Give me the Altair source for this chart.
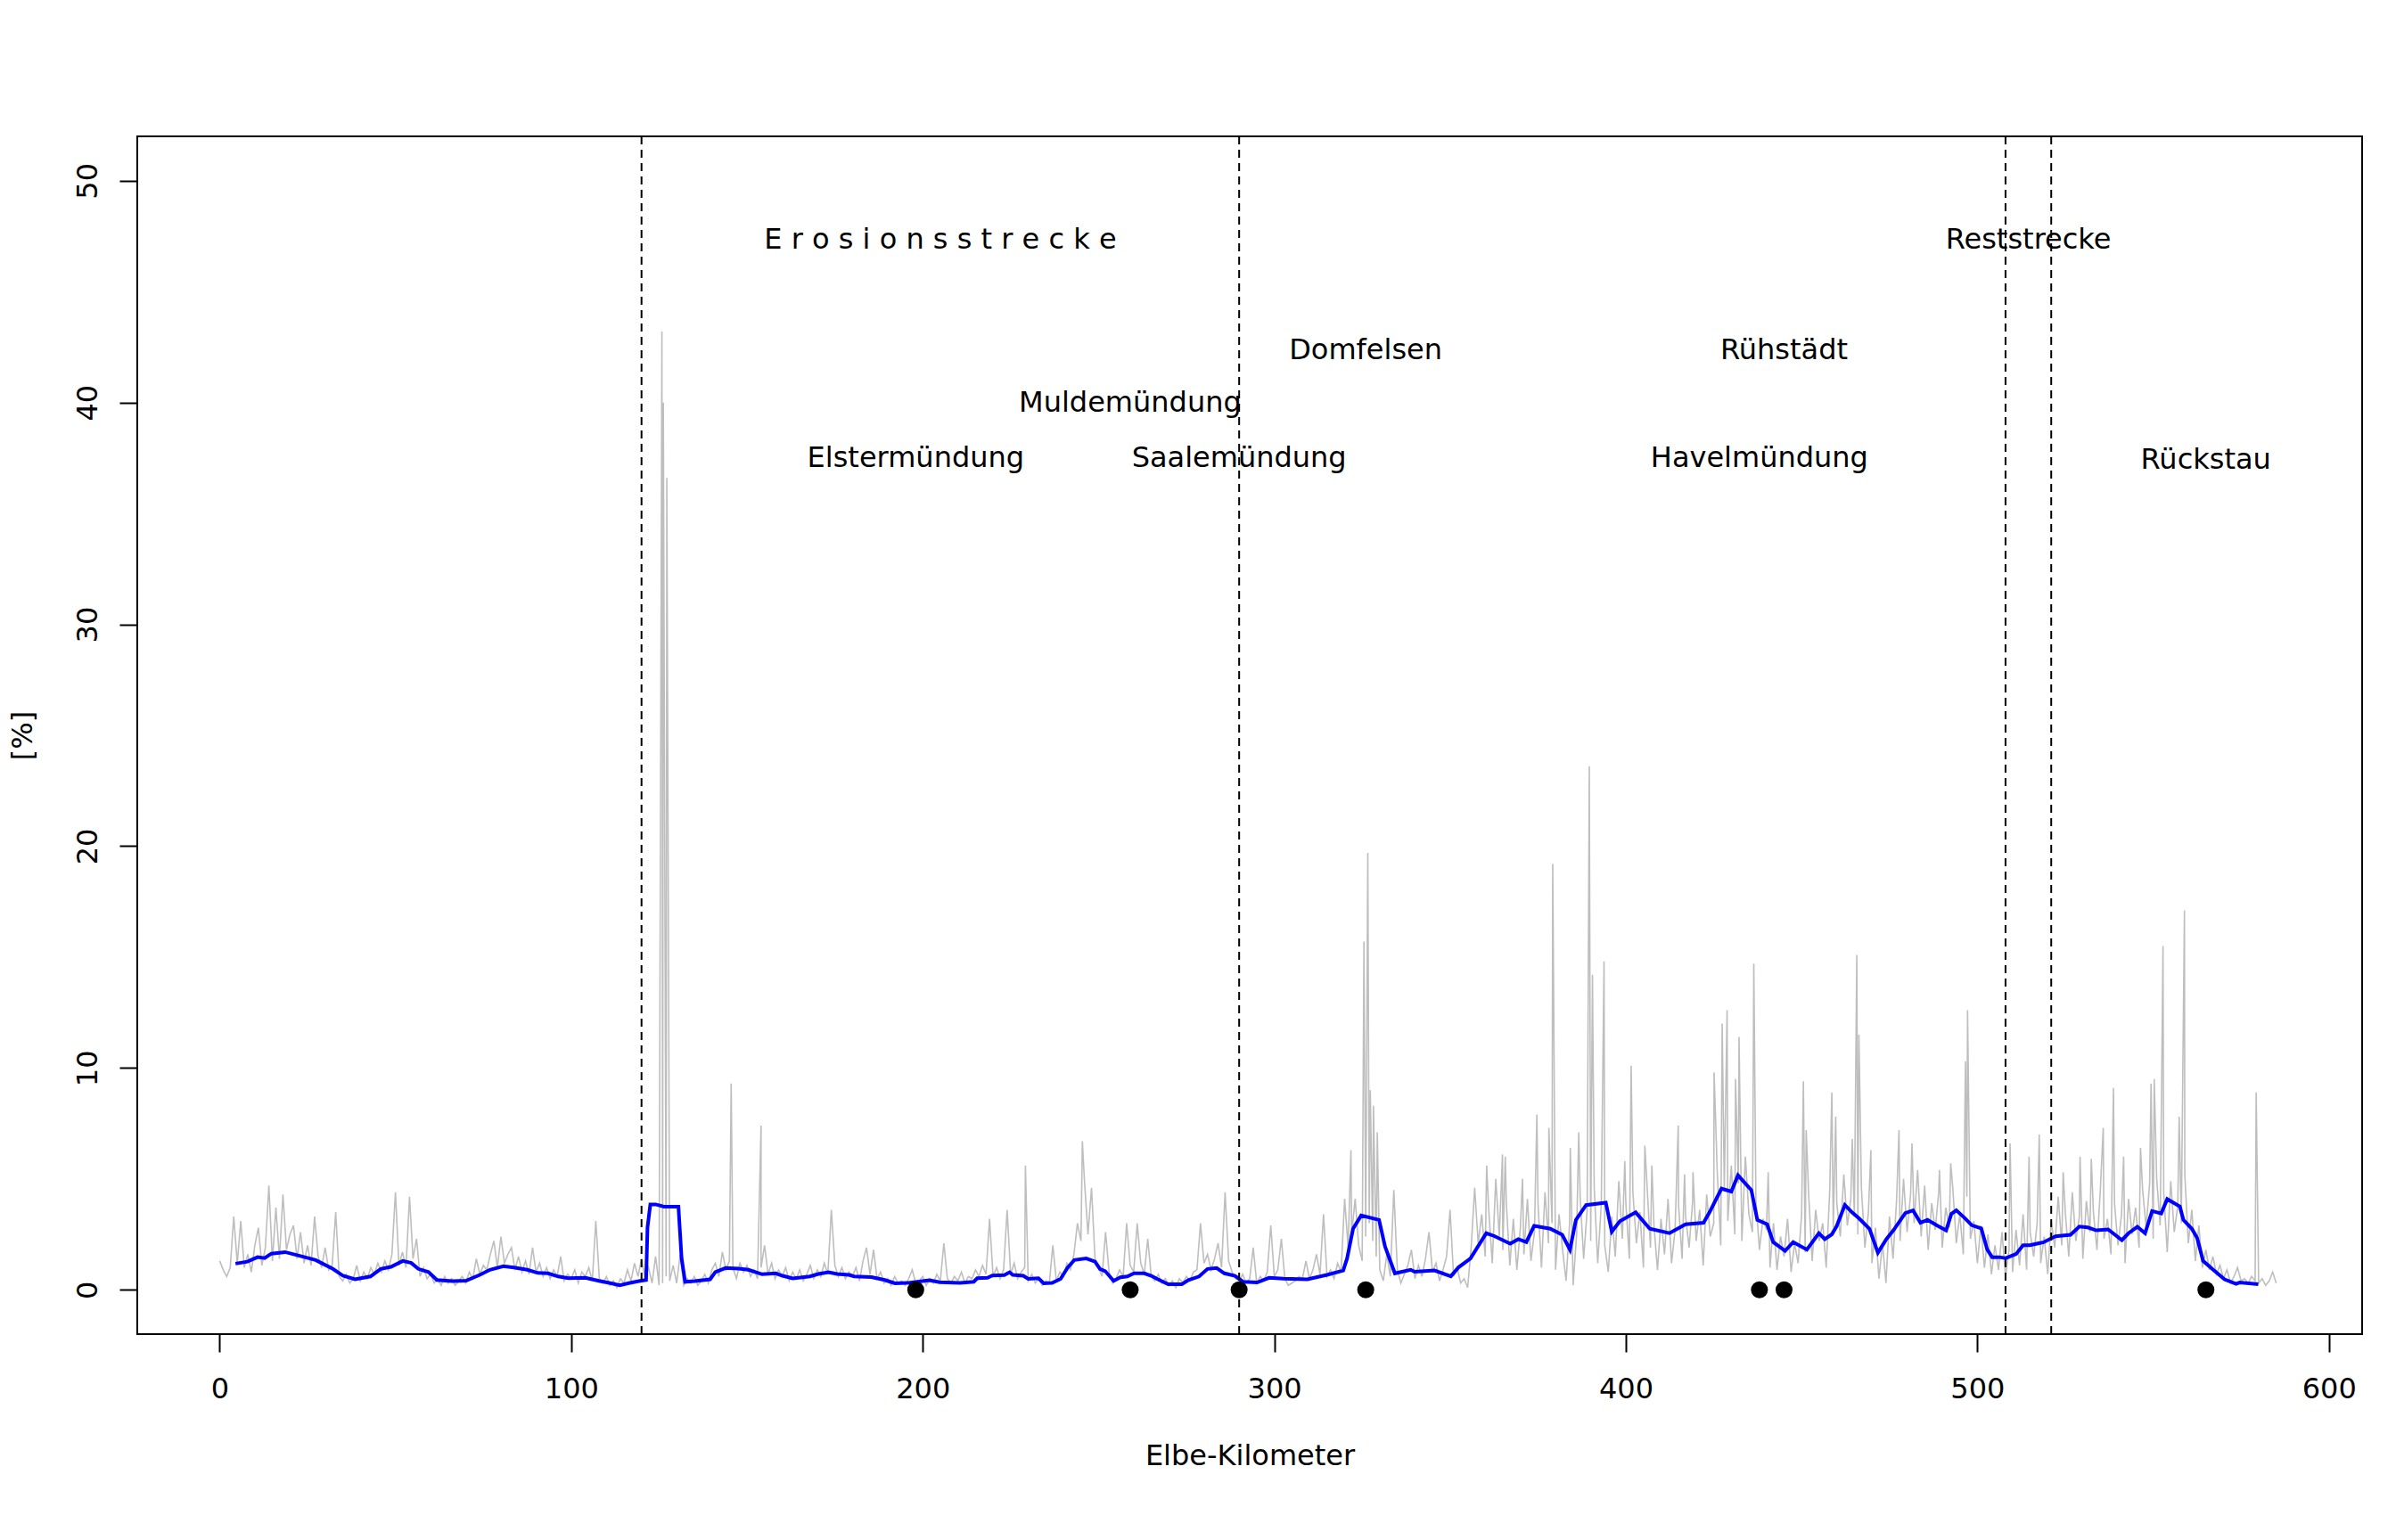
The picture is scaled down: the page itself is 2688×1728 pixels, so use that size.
import altair as alt
import pandas as pd

# ---- gray series: profile value per Elbe-km (0 ... 585) ----
gray_base = [
    1.3, 0.9, 0.6, 1.0, 3.3, 1.2, 3.1, 1.0, 1.6, 0.8,   # 0
    2.0, 2.8, 1.1, 1.9, 4.7, 1.3, 3.7, 1.4, 4.3, 1.8,   # 10
    2.5, 2.9, 1.4, 2.6, 1.2, 2.0, 1.1, 3.3, 1.5, 1.0,   # 20
    1.9, 0.9, 1.1, 3.5, 0.6, 0.4, 0.7, 0.3, 0.5, 1.1,   # 30
    0.4, 0.8, 0.5, 1.0, 0.7, 1.2, 0.8, 1.3, 0.9, 1.6,   # 40
    4.4, 1.1, 1.7, 1.0, 4.2, 1.4, 2.3, 0.6, 1.0, 0.5,   # 50
    0.7, 0.3, 0.5, 0.2, 0.6, 0.3, 0.5, 0.2, 0.4, 0.6,   # 60
    0.3, 0.8, 0.5, 1.4, 0.7, 1.1, 0.9, 1.6, 2.2, 1.0,   # 70
    2.4, 1.2, 1.6, 1.9, 0.9, 1.5, 0.8, 1.3, 0.7, 1.9,   # 80
    0.8, 1.2, 0.6, 1.0, 0.5, 0.9, 0.6, 1.5, 0.4, 0.7,   # 90
    0.5, 0.9, 0.3, 0.8, 0.6, 1.0, 0.4, 3.1, 0.5, 0.3,   # 100
    0.6, 0.2, 0.4, 0.1, 0.5, 0.3, 0.9, 0.4, 1.2, 0.6,   # 110
    1.4, 0.5, 1.0, 0.3, 1.5, 0.2, 0.3, 0.6, 0.4, 1.1,   # 120
    0.3, 1.6, 0.2, 0.5, 0.3, 0.6, 0.2, 0.4, 0.7, 0.3,   # 130
    0.9, 1.2, 0.6, 1.7, 0.9, 1.3, 1.0, 0.5, 1.2, 0.8,   # 140
    1.1, 0.6, 0.9, 0.5, 1.0, 2.0, 0.7, 1.2, 0.5, 0.9,   # 150
    0.6, 1.0, 0.4, 0.8, 0.5, 0.9, 0.4, 0.7, 1.1, 0.5,   # 160
    0.9, 0.6, 1.2, 0.7, 3.6, 1.1, 0.6, 1.0, 0.5, 0.8,   # 170
    0.6, 1.0, 0.4, 1.3, 1.9, 0.7, 1.8, 0.5, 0.8, 0.3,   # 180
    0.5, 0.2, 0.6, 0.3, 0.4, 0.2, 0.5, 0.9, 0.3, 0.4,   # 190
    0.6, 0.2, 0.5, 0.3, 0.7, 0.4, 2.1, 0.5, 0.3, 0.6,   # 200
    0.4, 0.8, 0.3, 0.6, 0.5, 0.9, 0.6, 1.1, 0.7, 3.2,   # 210
    0.6, 1.0, 0.5, 0.9, 3.6, 0.7, 1.2, 0.5, 0.8, 1.0,   # 220
    0.4, 0.7, 0.3, 0.5, 0.2, 0.4, 0.3, 2.0, 0.4, 0.8,   # 230
    0.6, 1.2, 0.9, 1.6, 3.0, 2.2, 4.9, 2.5, 4.6, 1.4,   # 240
    1.0, 0.6, 2.6, 0.8, 0.3, 0.5, 0.9, 0.6, 3.0, 1.1,   # 250
    0.8, 3.0, 1.2, 0.7, 2.3, 0.6, 0.4, 0.7, 0.3, 0.5,   # 260
    0.2, 0.4, 0.1, 0.5, 0.3, 0.6, 0.4, 0.8, 0.9, 3.0,   # 270
    1.2, 1.6, 0.9, 1.4, 2.1, 1.0, 4.4, 1.3, 0.8, 0.5,   # 280
    0.4, 0.7, 0.3, 0.5, 1.9, 0.3, 0.6, 0.4, 0.8, 2.9,   # 290
    0.6, 0.9, 2.3, 0.5, 0.2, 0.3, 0.4, 0.6, 0.5, 1.3,   # 300
    0.5, 0.9, 1.6, 0.7, 3.4, 0.6, 0.9, 0.5, 1.2, 0.8,   # 310
    4.1, 1.9, 2.5, 4.1, 2.0, 1.3, 2.4, 3.0, 2.2, 1.5,   # 320
    0.9, 0.4, 1.6, 0.6, 4.5, 0.9, 0.3, 0.7, 1.1, 1.8,   # 330
    0.5, 1.1, 0.6, 1.4, 2.6, 0.8, 1.2, 0.4, 0.9, 1.5,   # 340
    3.6, 0.6, 1.0, 0.3, 0.5, 0.1, 1.9, 4.6, 2.1, 3.4,   # 350
    1.5, 3.6, 1.2, 5.0, 2.4, 1.8, 3.9, 1.1, 3.2, 0.9,   # 360
    2.8, 1.6, 4.1, 1.3, 2.6, 3.9, 1.0, 4.4, 2.1, 3.0,   # 370
    0.9, 3.4, 1.8, 0.4, 3.0, 0.2, 2.5, 4.2, 1.4, 3.6,   # 380
    2.2, 4.6, 1.2, 3.8, 2.0, 0.8, 3.3, 1.5, 4.9, 2.3,   # 390
    3.9, 1.4, 4.4, 2.1, 3.5, 1.0, 4.8, 1.9, 2.9, 0.9,   # 400
    3.2, 1.6, 4.1, 1.2, 2.7, 3.8, 1.4, 3.3, 1.9, 4.0,   # 410
    2.2, 3.6, 1.1, 4.3, 2.4, 3.0, 5.3, 2.0, 4.6, 3.1,   # 420
    5.6, 2.5, 4.8, 2.2, 6.0, 3.4, 2.6, 4.0, 1.8, 3.2,   # 430
    2.7, 1.0, 3.0, 0.9, 2.4, 1.5, 3.2, 0.8, 2.1, 1.2,   # 440
    3.4, 1.7, 4.3, 1.3, 3.6, 2.2, 3.0, 1.0, 4.5, 2.8,   # 450
    3.9, 2.4, 5.2, 2.9, 4.1, 3.3, 2.5, 4.6, 1.9, 3.5,   # 460
    1.2, 2.8, 0.5, 2.1, 0.3, 3.3, 1.4, 4.0, 2.2, 5.0,   # 470
    2.6, 4.3, 3.0, 5.4, 2.4, 4.7, 1.8, 3.9, 2.7, 4.4,   # 480
    1.9, 3.7, 2.8, 4.6, 2.1, 3.4, 1.6, 4.2, 2.3, 3.1,   # 490
    1.2, 2.9, 1.0, 2.5, 0.7, 2.0, 0.9, 2.6, 0.6, 1.8,   # 500
    0.8, 2.7, 1.1, 3.4, 0.9, 2.6, 1.5, 3.0, 1.2, 2.4,   # 510
    0.7, 3.1, 1.9, 4.2, 2.0, 3.5, 1.5, 4.4, 2.2, 3.3,   # 520
    1.4, 4.0, 2.6, 3.5, 1.8, 4.6, 2.3, 3.2, 1.6, 3.9,   # 530
    2.0, 3.4, 1.2, 4.1, 2.5, 3.7, 1.9, 4.5, 2.8, 4.8,   # 540
    2.3, 5.0, 2.9, 4.4, 1.7, 4.9, 2.6, 3.8, 3.0, 5.2,   # 550
    2.1, 3.6, 1.3, 2.9, 1.0, 1.8, 0.9, 1.5, 0.7, 1.1,   # 560
    0.5, 0.9, 0.3, 0.6, 1.0, 0.4, 0.5, 0.3, 0.6, 0.4,   # 570
    0.3, 0.5, 0.2, 0.4, 0.8, 0.3,                       # 580
]
gray_base_km = list(range(len(gray_base)))

# extra in-between samples of the gray series (km, value): narrow peaks
spike_km = [125.8, 126.2, 127.2, 145.5, 154.0, 229.2, 245.4, 321.8, 325.5, 326.6,
            327.3, 328.2, 329.3, 360.4, 364.9, 365.7, 370.6, 374.7, 378.1, 379.2,
            384.2, 386.6, 389.6, 390.5, 393.8, 399.7, 401.5, 405.4, 407.4, 414.9,
            416.7, 419.1, 425.1, 427.4, 428.8, 431.2, 432.2, 436.4, 440.5, 450.5,
            451.3, 458.6, 459.7, 464.4, 465.7, 466.3, 469.7, 477.7, 481.4, 489.2,
            492.4, 496.6, 497.2, 509.3, 514.7, 517.6, 524.4, 529.2, 532.4, 535.8,
            538.7, 541.6, 546.4, 549.4, 550.3, 552.8, 557.4, 558.9, 579.3]
spike_val = [43.2, 40.0, 36.6, 9.3, 7.4, 5.6, 6.7, 6.3, 15.7, 19.7,
             9.0, 8.3, 7.1, 5.6, 6.1, 6.0, 5.0, 7.9, 7.3, 19.2,
             6.4, 7.1, 23.6, 14.2, 14.8, 5.8, 10.1, 6.5, 5.6, 7.4,
             5.2, 5.3, 9.8, 12.0, 12.6, 9.5, 11.4, 14.7, 5.3, 9.4,
             7.2, 8.9, 7.8, 6.8, 15.1, 11.5, 6.3, 7.2, 6.6, 5.4,
             5.7, 10.3, 12.6, 6.6, 6.0, 7.0, 5.3, 6.0, 5.9, 7.3,
             9.1, 6.0, 6.4, 9.3, 9.5, 15.5, 7.8, 17.1, 8.9]

# ---- blue smoothed series ----
blue_km = [4.5, 7.9, 10.8, 12.8, 14.7, 18.6, 22.5, 27.3, 32.2, 35.1,
           38.5, 42.9, 45.8, 48.7, 52.1, 54.5, 56.5, 59.4, 61.8, 66.2,
           70.1, 74.0, 76.9, 80.7, 83.7, 87.5, 90.5, 93.4, 96.3, 99.2,
           104.0, 107.9, 110.8, 113.8, 116.7, 119.6, 121.3, 121.7, 122.5, 124.0,
           126.4, 130.5, 131.4, 132.4, 135.1, 139.5, 141.0, 143.9, 147.7, 150.4,
           154.3, 158.2, 160.1, 163.0, 167.9, 170.3, 173.2, 175.6, 179.0, 180.5,
           185.4, 189.2, 192.1, 196.0, 199.9, 201.9, 204.8, 210.6, 214.5, 215.5,
           218.4, 219.8, 223.2, 224.7, 225.6, 228.6, 230.0, 232.9, 234.4, 236.8,
           239.2, 241.2, 243.1, 246.5, 249.0, 250.4, 251.9, 254.3, 256.2, 258.2,
           260.1, 263.0, 265.0, 266.9, 269.8, 273.7, 275.6, 278.6, 281.0, 283.6,
           285.8, 288.8, 291.2, 295.1, 298.5, 302.6, 309.4, 315.0, 319.6, 320.7,
           322.4, 324.7, 329.8, 331.5, 334.3, 338.8, 339.9, 345.6, 350.2, 352.4,
           355.8, 360.3, 362.6, 367.1, 369.4, 371.7, 373.9, 378.5, 381.9, 384.1,
           385.8, 388.7, 394.3, 396.0, 398.3, 402.8, 406.8, 412.4, 417.0, 422.1,
           423.8, 427.2, 430.0, 431.9, 435.7, 437.4, 440.2, 441.9, 445.3, 447.6,
           451.5, 454.9, 456.6, 458.6, 460.0, 462.3, 464.4, 466.3, 469.3, 471.7,
           474.1, 476.1, 479.5, 481.7, 483.8, 485.8, 488.7, 491.1, 492.6, 494.0,
           496.5, 498.4, 501.1, 502.8, 504.2, 506.2, 508.1, 511.0, 513.0, 514.9,
           518.8, 522.2, 526.5, 529.0, 531.4, 533.8, 537.2, 541.1, 543.0, 545.5,
           547.7, 549.7, 552.3, 554.0, 557.6, 558.6, 561.0, 562.5, 564.2, 567.3,
           570.3, 573.6, 574.6, 579.9]
blue_val = [1.18, 1.27, 1.47, 1.43, 1.63, 1.70, 1.54, 1.34, 0.94, 0.63,
            0.47, 0.60, 0.94, 1.03, 1.30, 1.21, 0.94, 0.80, 0.44, 0.39,
            0.41, 0.67, 0.90, 1.06, 1.00, 0.90, 0.76, 0.74, 0.60, 0.52,
            0.54, 0.40, 0.31, 0.20, 0.31, 0.40, 0.44, 2.81, 3.85, 3.85,
            3.75, 3.75, 1.41, 0.36, 0.39, 0.47, 0.80, 0.98, 0.95, 0.90,
            0.70, 0.74, 0.63, 0.51, 0.60, 0.71, 0.79, 0.71, 0.67, 0.60,
            0.57, 0.44, 0.29, 0.31, 0.39, 0.43, 0.34, 0.31, 0.36, 0.52,
            0.54, 0.64, 0.66, 0.79, 0.67, 0.63, 0.49, 0.52, 0.29, 0.31,
            0.49, 1.00, 1.34, 1.41, 1.27, 0.94, 0.84, 0.40, 0.56, 0.60,
            0.74, 0.74, 0.63, 0.47, 0.25, 0.25, 0.44, 0.60, 0.94, 0.98,
            0.74, 0.63, 0.36, 0.33, 0.54, 0.50, 0.47, 0.67, 0.87, 1.41,
            2.75, 3.35, 3.15, 1.95, 0.74, 0.90, 0.81, 0.87, 0.61, 1.01,
            1.41, 2.55, 2.42, 2.08, 2.28, 2.15, 2.88, 2.75, 2.48, 1.81,
            3.15, 3.82, 3.93, 2.62, 3.09, 3.49, 2.75, 2.55, 2.95, 3.02,
            3.49, 4.56, 4.43, 5.16, 4.49, 3.15, 2.95, 2.15, 1.75, 2.15,
            1.81, 2.55, 2.28, 2.50, 2.88, 3.82, 3.48, 3.22, 2.75, 1.67,
            2.28, 2.68, 3.46, 3.58, 3.02, 3.15, 2.88, 2.68, 3.42, 3.58,
            3.22, 2.91, 2.77, 1.81, 1.47, 1.47, 1.43, 1.61, 2.01, 2.01,
            2.14, 2.41, 2.48, 2.85, 2.81, 2.68, 2.72, 2.24, 2.55, 2.84,
            2.55, 3.55, 3.44, 4.09, 3.75, 3.15, 2.75, 2.34, 1.30, 0.87,
            0.47, 0.27, 0.33, 0.25]

# ---- section borders, landmarks, labels ----
section_km = [120, 290, 508, 521]
marker_km = [198, 259, 290, 326, 438, 445, 565]
label_text = ["E r o s i o n s s t r e c k e", "Reststrecke", "Domfelsen", "Rühstädt",
              "Muldemündung", "Elstermündung", "Saalemündung", "Havelmündung", "Rückstau"]
label_km = [205, 514.5, 326, 445, 259, 198, 290, 438, 565]
label_y = [47.35, 47.35, 42.35, 42.35, 40.0, 37.5, 37.5, 37.5, 37.4]

x_ticks = [0, 100, 200, 300, 400, 500, 600]
y_ticks = [0, 10, 20, 30, 40, 50]

FONT = "DejaVu Sans"
FS = 32
X_DOMAIN = [-23.44, 609.44]
Y_DOMAIN = [-2, 52]
W, H = 2496, 1344

gray_df = pd.DataFrame({"km": gray_base_km + spike_km, "v": gray_base + spike_val}).sort_values("km")
blue_df = pd.DataFrame({"km": blue_km, "v": blue_val})
sect_df = pd.DataFrame({"km": section_km})
mark_df = pd.DataFrame({"km": marker_km, "v": [0] * len(marker_km)})
lab_df = pd.DataFrame({"km": label_km, "v": label_y, "t": label_text})

xscale = alt.Scale(domain=X_DOMAIN, nice=False, zero=False)
yscale = alt.Scale(domain=Y_DOMAIN, nice=False, zero=False)

xaxis = alt.Axis(values=x_ticks, format="d", tickSize=20, tickWidth=2, tickColor="black",
                 labelFont=FONT, labelFontSize=FS, labelColor="black", labelPadding=51,
                 labelBaseline="alphabetic", labelFlush=False, labelOverlap=False,
                 domain=False, grid=False, title="Elbe-Kilometer", titleFont=FONT,
                 titleFontSize=FS, titleFontWeight="normal", titleColor="black",
                 titleX=W / 2, titleY=146, titleAlign="center", titleBaseline="alphabetic")
yaxis = alt.Axis(values=y_ticks, format="d", tickSize=20, tickWidth=2, tickColor="black",
                 labelFont=FONT, labelFontSize=FS, labelColor="black", labelPadding=26,
                 labelAngle=270, labelAlign="center", labelBaseline="alphabetic",
                 labelFlush=False, labelOverlap=False,
                 domain=False, grid=False, title="[%]", titleFont=FONT, titleFontSize=FS,
                 titleFontWeight="normal", titleColor="black", titleAngle=270,
                 titleX=-129, titleY=H / 2, titleAlign="center", titleBaseline="middle")

gray = alt.Chart(gray_df).mark_line(color="#BEBEBE", strokeWidth=1.6).encode(
    x=alt.X("km:Q", scale=xscale, axis=xaxis),
    y=alt.Y("v:Q", scale=yscale, axis=yaxis),
)
blue = alt.Chart(blue_df).mark_line(color="#0000FF", strokeWidth=4).encode(
    x=alt.X("km:Q", scale=xscale), y=alt.Y("v:Q", scale=yscale))
rules = alt.Chart(sect_df).mark_rule(color="black", strokeWidth=2, strokeDash=[9, 6]).encode(
    x=alt.X("km:Q", scale=xscale))
pts = alt.Chart(mark_df).mark_circle(color="black", opacity=1, size=360).encode(
    x=alt.X("km:Q", scale=xscale), y=alt.Y("v:Q", scale=yscale))
texts = alt.Chart(lab_df).mark_text(font=FONT, fontSize=FS, color="black", align="center",
                                    baseline="middle").encode(
    x=alt.X("km:Q", scale=xscale), y=alt.Y("v:Q", scale=yscale), text="t:N")

chart = alt.layer(gray, blue, rules, pts, texts).properties(
    width=W, height=H,
    autosize=alt.AutoSizeParams(type="none"),
    padding={"left": 146, "top": 145, "right": 30, "bottom": 200},
    background="white",
).configure_view(stroke="black", strokeWidth=2)

chart.save("out.html", embed_options={"renderer": "svg", "actions": False})
